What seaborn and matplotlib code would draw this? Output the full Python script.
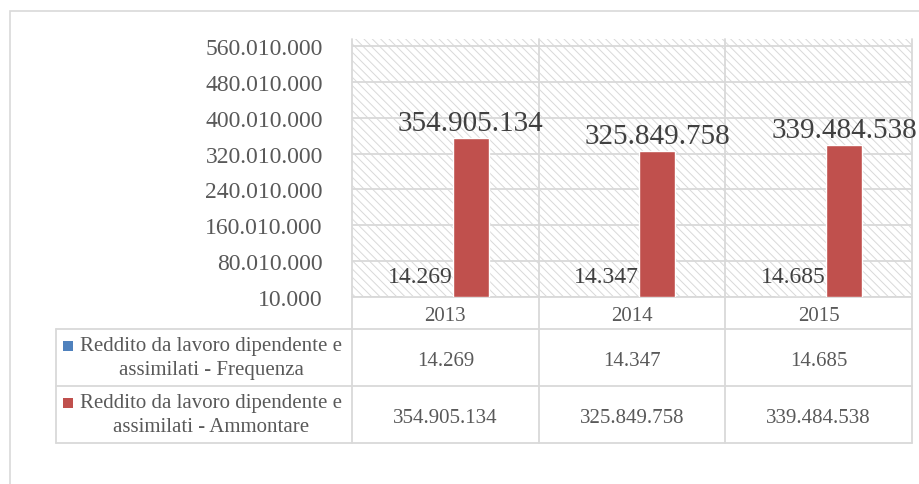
import matplotlib
matplotlib.use("Agg")
import matplotlib.pyplot as plt
import pandas as pd
import seaborn as sns
from matplotlib.patches import Rectangle
from matplotlib.lines import Line2D
from matplotlib.transforms import blended_transform_factory

# ---- data -------------------------------------------------------------
years = ["2013", "2014", "2015"]
frequenza = [14269, 14347, 14685]
ammontare = [354905134, 325849758, 339484538]
series_names = [
    "Reddito da lavoro dipendente e\nassimilati - Frequenza",
    "Reddito da lavoro dipendente e\nassimilati - Ammontare",
]
y_ticks = [10_000, 80_010_000, 160_010_000, 240_010_000,
           320_010_000, 400_010_000, 480_010_000, 560_010_000]
y_min, y_max = 10_000, 575_600_000

BLUE = "#4F81BD"
RED = "#C0504D"
GRID = "#D9D9D9"
TXT = "#595959"
LBL = "#404040"


def it_num(v):
    return f"{v:,}".replace(",", ".")


sns.set_theme(style="white")
plt.rcParams["font.family"] = ["Liberation Serif", "DejaVu Serif"]
plt.rcParams["hatch.color"] = GRID
plt.rcParams["hatch.linewidth"] = 0.7

W, H = 920, 485
fig = plt.figure(figsize=(W / 100, H / 100), dpi=100)


def fx(px):
    return px / W


def fy(py):
    return 1 - py / H


# outer chart frame
fig.add_artist(Rectangle((fx(10), fy(495)), fx(930) - fx(10), fy(12) - fy(495),
                         transform=fig.transFigure, fill=False,
                         edgecolor=GRID, lw=1.2, clip_on=False))

ax = fig.add_axes([fx(352), fy(298), fx(912) - fx(352), (298 - 40) / H])

# hatched plot area
ax.set_facecolor("white")
ax.add_patch(Rectangle((0, 0), 1, 1, transform=ax.transAxes, facecolor="white",
                       edgecolor=GRID, hatch="\\\\\\\\", lw=0, zorder=0))

df = pd.DataFrame({
    "Anno": years * 2,
    "Serie": [series_names[0]] * 3 + [series_names[1]] * 3,
    "Valore": frequenza + ammontare,
})
sns.barplot(data=df, x="Anno", y="Valore", hue="Serie", order=years,
            hue_order=series_names, palette=[BLUE, RED], saturation=1,
            width=0.545, gap=0.294, legend=False, ax=ax, zorder=3)

ax.set_xlim(-0.5, 2.5)
ax.set_ylim(y_min, y_max)
ax.set_yticks(y_ticks)
ax.set_yticklabels([it_num(v) for v in y_ticks])
ax.yaxis.grid(True, color=GRID, lw=1.3)
ax.xaxis.grid(False)
ax.set_axisbelow(True)
ax.tick_params(axis="y", length=0, pad=21, labelsize=17, labelcolor=TXT)
ax.tick_params(axis="x", length=0, pad=6.5, labelsize=15, labelcolor=TXT)
ax.set_xlabel("")
ax.set_ylabel("")
for s in ax.spines.values():
    s.set_visible(False)

# data labels
ax.bar_label(ax.containers[0], labels=[it_num(v) for v in frequenza],
             padding=7, fontsize=17, color=LBL, zorder=5)
ax.bar_label(ax.containers[1], labels=[it_num(v) for v in ammontare],
             padding=1.5, fontsize=21, color=LBL, zorder=5)

# category borders, running from the plot area down through the data table
bt = blended_transform_factory(ax.transData, fig.transFigure)
for xb in [-0.5, 0.5, 1.5, 2.5]:
    ax.add_line(Line2D([xb, xb], [fy(40), fy(444)], transform=bt,
                       color=GRID, lw=1.3, clip_on=False, zorder=1))
ax.add_line(Line2D([-0.5, 2.5], [fy(298), fy(298)], transform=bt,
                   color=GRID, lw=1.3, clip_on=False, zorder=1))
for yb in [330, 387, 444]:
    fig.add_artist(Line2D([fx(56), fx(912)], [fy(yb), fy(yb)],
                          transform=fig.transFigure, color=GRID, lw=1.3,
                          clip_on=False))
fig.add_artist(Line2D([fx(56), fx(56)], [fy(330), fy(444)],
                      transform=fig.transFigure, color=GRID, lw=1.3,
                      clip_on=False))

row_centers = [358.5, 415.5]
row_values = [frequenza, ammontare]
for name, color, yc, vals in zip(series_names, [BLUE, RED], row_centers, row_values):
    fig.add_artist(Rectangle((fx(63), fy(yc - 7)), fx(10), 10 / H,
                             transform=fig.transFigure, facecolor=color,
                             edgecolor="none"))
    fig.text(fx(211), fy(yc), name, ha="center", va="center",
             multialignment="center", fontsize=15, color=TXT, linespacing=1.3)
    for i, v in enumerate(vals):
        fig.text(i, fy(yc + 1), it_num(v), transform=bt, ha="center",
                 va="center_baseline", fontsize=15, color=TXT)

fig.savefig("out.png", dpi=100)
